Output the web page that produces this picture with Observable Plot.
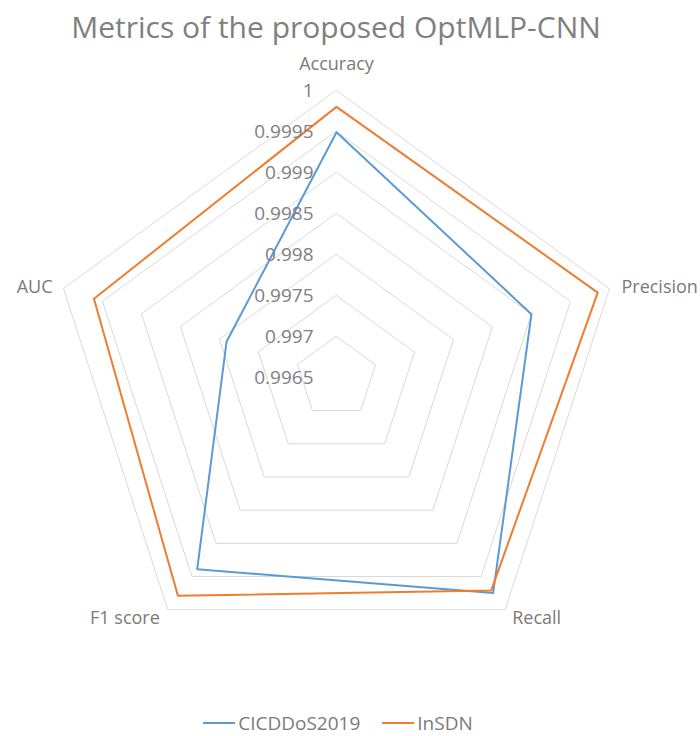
<!DOCTYPE html>
<html>
<head>
<meta charset="utf-8">
<script src="https://cdn.jsdelivr.net/npm/d3@7"></script>
<script src="https://cdn.jsdelivr.net/npm/@observablehq/plot@0.6"></script>
<style>
  html, body { margin: 0; padding: 0; background: #fff; }
  body { width: 700px; height: 736px; overflow: hidden; font-family: "Open Sans", sans-serif; }
  #title { height: 52px; text-align: center; font-size: 30px; color: #7f7f7f; line-height: 54px; white-space: nowrap; padding-right: 28px; }
  #legend { height: 26px; padding-top: 22px; display: flex; justify-content: center; align-items: center; gap: 22px; font-size: 19px; color: #7a7a7a; padding-right: 24px; }
  .item { display: flex; align-items: center; gap: 3px; }
  .swatch { width: 32px; height: 2px; display: inline-block; }
</style>
</head>
<body>
<div id="title">Metrics of the proposed OptMLP-CNN</div>
<div id="chart"></div>
<div id="legend"></div>
<script>
// ---- data ----
const axes = ["Accuracy", "Precision", "Recall", "F1 score", "AUC"];
const seriesNames = ["CICDDoS2019", "InSDN"];
const cicddos2019 = [0.99949, 0.99900, 0.99975, 0.99939, 0.99791];
const insdn = [0.99980, 0.99985, 0.99971, 0.99979, 0.99961];
const tickValues = [0.9965, 0.997, 0.9975, 0.998, 0.9985, 0.999, 0.9995, 1];
const tickLabels = ["0.9965", "0.997", "0.9975", "0.998", "0.9985", "0.999", "0.9995", "1"];
const seriesColors = ["#5B9BD5", "#ED7D31"];

// ---- radial geometry ----
const rScale = d3.scaleLinear().domain([tickValues[0], tickValues[tickValues.length - 1]]).range([0, 1]);
const angle = i => (i * 2 * Math.PI) / axes.length;
const polar = (v, i) => ({ x: rScale(v) * Math.sin(angle(i)), y: rScale(v) * Math.cos(angle(i)) });

const seriesRows = [];
[cicddos2019, insdn].forEach((vals, s) => {
  vals.forEach((v, i) => seriesRows.push({ series: seriesNames[s], axis: axes[i], value: v, ...polar(v, i) }));
});

const gridRows = [];
tickValues.slice(1).forEach(t => {
  axes.forEach((a, i) => gridRows.push({ tick: t, ...polar(t, i) }));
});

const tickRows = tickValues.map((t, k) => ({ label: tickLabels[k], ...polar(t, 0) }));

const outer = tickValues[tickValues.length - 1];
const axisLabelRows = axes.map((a, i) => {
  const p = polar(outer, i);
  const s = Math.sin(angle(i));
  return {
    label: a, ...p,
    anchor: Math.abs(s) < 0.01 ? "middle" : (s > 0 ? "start" : "end"),
    dx: [0, 12, 7, -8, -11][i],
    dy: [-26, -2, 9, 9, -2][i]
  };
});

// ---- layout (pixels per unit radius) ----
const W = 700, H = 636, R = 287, cx = 336, cy = 325;

const chart = Plot.plot({
  width: W,
  height: H,
  margin: 0,
  x: { domain: [-cx / R, (W - cx) / R], axis: null },
  y: { domain: [-(H - cy) / R, cy / R], axis: null },
  color: { domain: seriesNames, range: seriesColors },
  style: { fontFamily: "Open Sans, sans-serif", background: "white" },
  marks: [
    Plot.line(gridRows, { x: "x", y: "y", z: "tick", stroke: "#d9d9d9", strokeWidth: 1, curve: "linear-closed" }),
    Plot.line(seriesRows, { x: "x", y: "y", z: "series", stroke: "series", strokeWidth: 2, curve: "linear-closed" }),
    Plot.text(tickRows, { x: "x", y: "y", text: "label", textAnchor: "end", dx: -23, fontSize: 19, fill: "#7f7f7f" }),
    ...axisLabelRows.map(d => Plot.text([d], { x: "x", y: "y", text: "label", textAnchor: d.anchor, dx: d.dx, dy: d.dy, fontSize: 18, fill: "#7a7a7a" }))
  ]
});
document.getElementById("chart").appendChild(chart);

const legend = document.getElementById("legend");
seriesNames.forEach((n, i) => {
  const item = document.createElement("div");
  item.className = "item";
  const sw = document.createElement("span");
  sw.className = "swatch";
  sw.style.background = seriesColors[i];
  const tx = document.createElement("span");
  tx.textContent = n;
  item.appendChild(sw);
  item.appendChild(tx);
  legend.appendChild(item);
});
</script>
</body>
</html>
